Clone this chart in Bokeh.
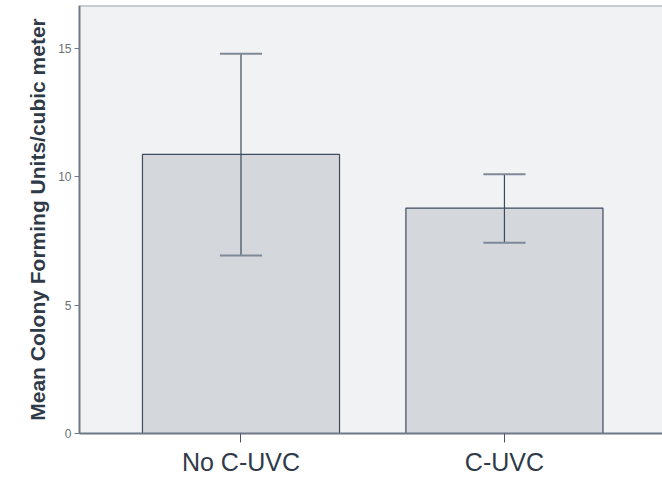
from bokeh.plotting import figure
from bokeh.models import Range1d, Span, FixedTicker
from bokeh.embed import file_html
from bokeh.resources import INLINE

categories = ["No C-UVC", "C-UVC"]
positions = [1, 2]
means = [10.87, 8.78]
ci_lower = [6.93, 7.43]
ci_upper = [14.79, 10.10]
y_ticks = [0, 5, 10, 15]

Y_END = 16.67

p = figure(width=662, height=478, output_backend="svg", toolbar_location=None,
           x_range=Range1d(0.387, 2.6), y_range=Range1d(0, Y_END),
           min_border_left=79, min_border_right=0, min_border_top=5, min_border_bottom=45)
p.background_fill_color = "#f1f2f4"
p.border_fill_color = "white"
p.outline_line_color = None
p.grid.visible = False

p.vbar(x=positions, top=means, width=0.748, bottom=0,
       fill_color="#d4d7dc", line_color="#3f4b5c", line_width=1.2)

# error bars
p.segment(x0=positions, x1=positions, y0=ci_lower, y1=ci_upper,
          line_color="#3d4a5c", line_width=1.2)
cap = 0.08
p.segment(x0=[x - cap for x in positions], x1=[x + cap for x in positions],
          y0=ci_upper, y1=ci_upper, line_color="#7f8998", line_width=2)
p.segment(x0=[x - cap for x in positions], x1=[x + cap for x in positions],
          y0=ci_lower, y1=ci_lower, line_color="#7f8998", line_width=2)

p.add_layout(Span(location=Y_END, dimension="width", line_color="#9aa3ae", line_width=2))

# y axis
p.yaxis.ticker = FixedTicker(ticks=y_ticks)
p.yaxis.minor_tick_line_color = None
p.yaxis.major_tick_out = 5
p.yaxis.major_tick_in = 0
p.yaxis.axis_line_color = "#6e7888"
p.yaxis.axis_line_width = 2
p.yaxis.major_tick_line_color = "#6e7888"
p.yaxis.major_label_text_font = "Liberation Sans"
p.yaxis.major_label_text_font_size = "12px"
p.yaxis.major_label_text_color = "#6b6f75"
p.yaxis.major_label_standoff = 3
p.yaxis.axis_label = "Mean Colony Forming Units/cubic meter"
p.yaxis.axis_label_text_font = "Liberation Sans"
p.yaxis.axis_label_text_font_style = "bold"
p.yaxis.axis_label_text_font_size = "21px"
p.yaxis.axis_label_text_color = "#2f3a48"
p.yaxis.axis_label_standoff = 6

# x axis
p.xaxis.ticker = FixedTicker(ticks=positions)
p.xaxis.major_label_overrides = {pos: cat for pos, cat in zip(positions, categories)}
p.xaxis.minor_tick_line_color = None
p.xaxis.major_tick_out = 9
p.xaxis.major_tick_in = 0
p.xaxis.axis_line_color = "#6e7888"
p.xaxis.axis_line_width = 2
p.xaxis.major_tick_line_color = "#4a5566"
p.xaxis.major_label_text_font = "Liberation Sans"
p.xaxis.major_label_text_font_size = "25px"
p.xaxis.major_label_text_color = "#2f3a48"
p.xaxis.major_label_standoff = 5

open("out.html", "w").write(file_html(p, INLINE))
